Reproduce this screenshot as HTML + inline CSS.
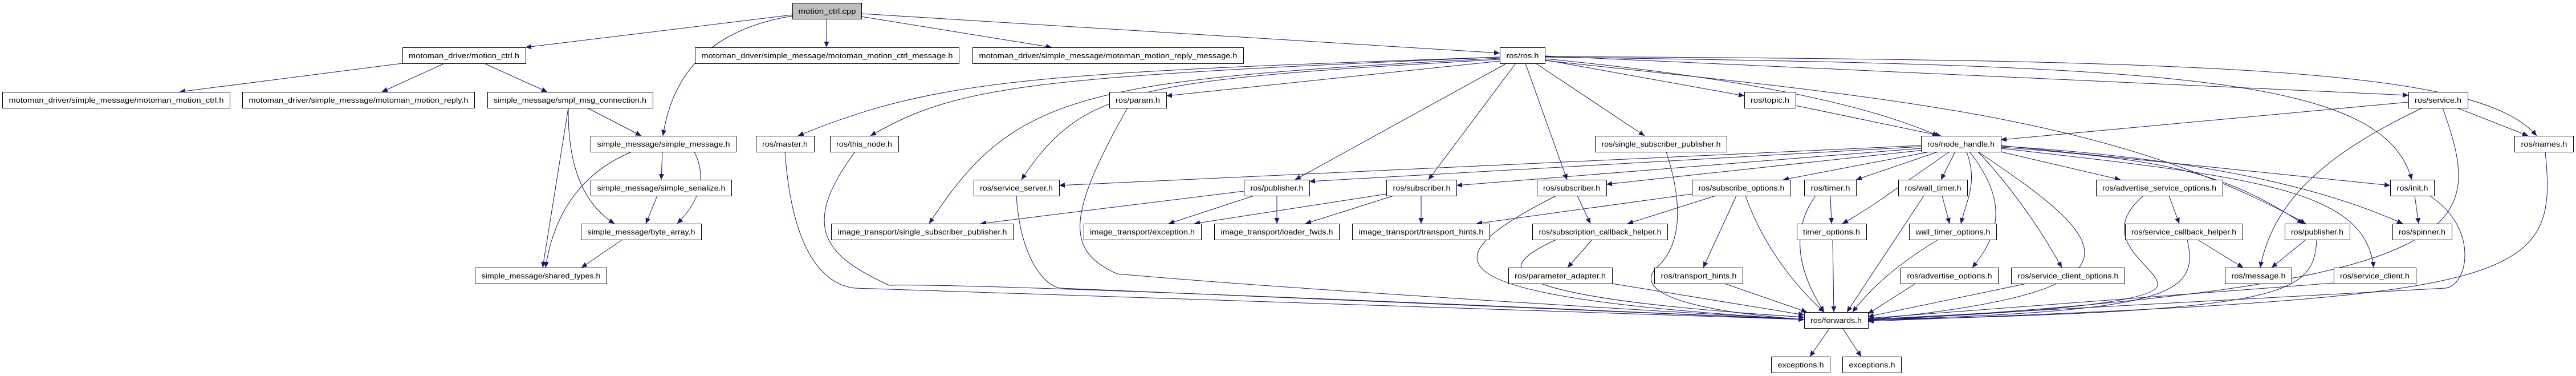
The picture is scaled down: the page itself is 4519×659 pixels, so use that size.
<!DOCTYPE html>
<html><head><meta charset="utf-8"><style>
html,body{margin:0;padding:0;background:#fff;}
svg{display:block;}
text{font-family:"Liberation Sans",sans-serif;font-size:13px;fill:#000;}
</style></head><body>
<svg width="4519" height="659" viewBox="0 0 4519 659" xmlns="http://www.w3.org/2000/svg">
<defs>
<marker id="a" markerUnits="userSpaceOnUse" markerWidth="11" markerHeight="9" refX="10" refY="4.5" orient="auto">
<path d="M0,0 L10,4.5 L0,9 Z" fill="#191970"/>
</marker>
</defs>
<g fill="none" stroke="#191970" stroke-width="1" marker-end="url(#a)">
<path d="M1390,26 L922,83"/>
<path d="M1390,28 Q1190,60 1163,238"/>
<path d="M1450,33 L1450,83"/>
<path d="M1511,29 L1845,83"/>
<path d="M1511,24 L2631,93"/>
<path d="M706,111 L315,161"/>
<path d="M780,111 L670,161"/>
<path d="M849,111 L960,161"/>
<path d="M1030,189 L1125,238"/>
<path d="M997,189 Q995,340 1078,392"/>
<path d="M997,189 L952,469"/>
<path d="M1162,266 L1160,315"/>
<path d="M1218,266 Q1250,330 1188,392"/>
<path d="M1108,266 Q980,320 957,469"/>
<path d="M1153,343 L1133,392"/>
<path d="M1092,420 L1020,469"/>
<path d="M2631,100 C1800,128 1640,140 1400,238"/>
<path d="M2631,100 C1800,135 1680,150 1527,238"/>
<path d="M2631,102 C1900,140 1780,160 1630,392"/>
<path d="M2631,104 C2000,140 1900,150 1792,315"/>
<path d="M2631,107 L2046,168"/>
<path d="M2643,111 L2272,315"/>
<path d="M2659,111 L2506,315"/>
<path d="M2676,111 L2749,315"/>
<path d="M2694,111 L2885,238"/>
<path d="M2710,105 L3060,168"/>
<path d="M2710,103 Q3200,150 3400,238"/>
<path d="M2710,98 L4225,167"/>
<path d="M2710,106 C3300,170 3700,200 4045,392"/>
<path d="M2710,100 C3800,115 4180,130 4231,315"/>
<path d="M2710,99 C3900,105 4350,120 4450,238"/>
<path d="M3150,185 L3405,238"/>
<path d="M4225,179 L3510,245"/>
<path d="M4250,189 C4100,260 3990,340 3965,469"/>
<path d="M4285,189 C4360,400 4360,500 3277,562"/>
<path d="M4310,189 L4435,238"/>
<path d="M4465,266 C4490,500 4420,520 3277,563"/>
<path d="M3370,255 L1858,325"/>
<path d="M3370,257 L2297,318"/>
<path d="M3370,260 L2555,325"/>
<path d="M3375,263 L2818,323"/>
<path d="M3385,266 L3128,315"/>
<path d="M3400,266 L3256,315"/>
<path d="M3430,266 L3405,315"/>
<path d="M3420,266 C3340,320 3290,360 3232,392"/>
<path d="M3450,266 C3470,320 3450,350 3440,392"/>
<path d="M3455,266 C3530,360 3500,420 3460,469"/>
<path d="M3470,266 C3540,340 3590,420 3617,469"/>
<path d="M3470,266 C3700,420 3800,510 3277,560"/>
<path d="M3510,266 L3720,315"/>
<path d="M3510,255 L4193,325"/>
<path d="M3510,258 C3800,280 3900,300 4040,392"/>
<path d="M3510,256 C3900,280 4100,340 4215,392"/>
<path d="M3510,260 C3950,310 4150,330 4164,469"/>
<path d="M2182,335 L1720,392"/>
<path d="M2200,343 L2050,392"/>
<path d="M2240,343 L2240,392"/>
<path d="M2432,340 L2095,392"/>
<path d="M2445,343 L2290,392"/>
<path d="M2493,343 L2493,392"/>
<path d="M2730,343 C2500,460 2500,520 3165,560"/>
<path d="M2767,343 L2790,392"/>
<path d="M2968,340 L2590,392"/>
<path d="M3010,343 L2855,392"/>
<path d="M3046,343 L2988,469"/>
<path d="M3062,343 C3100,450 3170,520 3200,547"/>
<path d="M3211,343 L3213,392"/>
<path d="M3185,343 C3130,420 3170,500 3200,547"/>
<path d="M3407,343 L3420,392"/>
<path d="M3375,343 L3240,547"/>
<path d="M3215,420 L3217,547"/>
<path d="M3400,420 Q3300,480 3250,547"/>
<path d="M2793,420 L2750,469"/>
<path d="M2730,420 C2620,470 2600,520 3165,556"/>
<path d="M2828,497 L3165,552"/>
<path d="M3025,497 L3170,547"/>
<path d="M3360,497 L3277,550"/>
<path d="M3555,497 L3277,555"/>
<path d="M2923,266 C2960,380 2940,440 2905,470 C2860,520 3000,548 3165,560"/>
<path d="M1377,266 C1390,450 1450,500 1500,505 L3165,560"/>
<path d="M1500,266 C1400,400 1450,450 1560,500 Q1700,495 3165,560"/>
<path d="M1978,189 C1870,380 1870,440 1960,480 Q2300,510 3165,560"/>
<path d="M1783,343 C1790,450 1830,500 1860,505 L3165,560"/>
<path d="M3805,343 L3823,392"/>
<path d="M3760,343 C3670,420 3790,470 3785,500 C3780,540 3400,555 3277,560"/>
<path d="M3855,420 L3935,469"/>
<path d="M3837,420 C3860,520 3800,545 3277,561"/>
<path d="M4045,420 L3985,469"/>
<path d="M4064,420 C4060,520 4000,545 3277,561"/>
<path d="M4094,496 L3277,558"/>
<path d="M4236,343 L4243,392"/>
<path d="M4262,343 C4350,400 4330,500 4290,505 L3277,560"/>
<path d="M3210,575 L3175,625"/>
<path d="M3232,575 L3265,625"/>
</g>
<g stroke="#000" stroke-width="1" fill="#fff">
<rect x="1390.5" y="5.5" width="121" height="28" fill="#bfbfbf"/>
<rect x="706.5" y="83.5" width="216" height="28"/>
<rect x="1219.5" y="83.5" width="463" height="28"/>
<rect x="1706.5" y="83.5" width="475" height="28"/>
<rect x="2631.5" y="83.5" width="79" height="28"/>
<rect x="4.5" y="161.5" width="399" height="28"/>
<rect x="425.5" y="161.5" width="407" height="28"/>
<rect x="855.5" y="161.5" width="290" height="28"/>
<rect x="1946.5" y="161.5" width="100" height="28"/>
<rect x="3060.5" y="161.5" width="90" height="28"/>
<rect x="4225.5" y="161.5" width="104" height="28"/>
<rect x="1036.5" y="238.5" width="255" height="28"/>
<rect x="1326.5" y="238.5" width="102" height="28"/>
<rect x="1456.5" y="238.5" width="120" height="28"/>
<rect x="2798.5" y="238.5" width="231" height="28"/>
<rect x="3370.5" y="238.5" width="140" height="28"/>
<rect x="4411.5" y="238.5" width="103" height="28"/>
<rect x="1036.5" y="315.5" width="247" height="28"/>
<rect x="1708.5" y="315.5" width="150" height="28"/>
<rect x="2182.5" y="315.5" width="115" height="28"/>
<rect x="2432.5" y="315.5" width="123" height="28"/>
<rect x="2696.5" y="315.5" width="122" height="28"/>
<rect x="2968.5" y="315.5" width="173" height="28"/>
<rect x="3165.5" y="315.5" width="91" height="28"/>
<rect x="3330.5" y="315.5" width="121" height="28"/>
<rect x="3677.5" y="315.5" width="222" height="28"/>
<rect x="4193.5" y="315.5" width="77" height="28"/>
<rect x="1019.5" y="392.5" width="211" height="28"/>
<rect x="1458.5" y="392.5" width="319" height="28"/>
<rect x="1901.5" y="392.5" width="206" height="28"/>
<rect x="2130.5" y="392.5" width="219" height="28"/>
<rect x="2372.5" y="392.5" width="241" height="28"/>
<rect x="2688.5" y="392.5" width="237" height="28"/>
<rect x="3152.5" y="392.5" width="122" height="28"/>
<rect x="3349.5" y="392.5" width="153" height="28"/>
<rect x="3728.5" y="392.5" width="206" height="28"/>
<rect x="4008.5" y="392.5" width="114" height="28"/>
<rect x="4197.5" y="392.5" width="104" height="28"/>
<rect x="833.5" y="469.5" width="231" height="28"/>
<rect x="2646.5" y="469.5" width="182" height="28"/>
<rect x="2902.5" y="469.5" width="155" height="28"/>
<rect x="3334.5" y="469.5" width="171" height="28"/>
<rect x="3528.5" y="469.5" width="199" height="28"/>
<rect x="3903.5" y="469.5" width="117" height="28"/>
<rect x="4094.5" y="469.5" width="144" height="28"/>
<rect x="3165.5" y="547.5" width="112" height="28"/>
<rect x="3107.5" y="625.5" width="103" height="28"/>
<rect x="3232.5" y="625.5" width="103" height="28"/>
</g>
<g text-anchor="middle" lengthAdjust="spacingAndGlyphs">
<text x="1451" y="24" textLength="101" lengthAdjust="spacingAndGlyphs">motion_ctrl.cpp</text>
<text x="814" y="102" textLength="194" lengthAdjust="spacingAndGlyphs">motoman_driver/motion_ctrl.h</text>
<text x="1451" y="102" textLength="441" lengthAdjust="spacingAndGlyphs">motoman_driver/simple_message/motoman_motion_ctrl_message.h</text>
<text x="1944" y="102" textLength="453" lengthAdjust="spacingAndGlyphs">motoman_driver/simple_message/motoman_motion_reply_message.h</text>
<text x="2671" y="102" textLength="57" lengthAdjust="spacingAndGlyphs">ros/ros.h</text>
<text x="204" y="180" textLength="377" lengthAdjust="spacingAndGlyphs">motoman_driver/simple_message/motoman_motion_ctrl.h</text>
<text x="629" y="180" textLength="385" lengthAdjust="spacingAndGlyphs">motoman_driver/simple_message/motoman_motion_reply.h</text>
<text x="1000" y="180" textLength="268" lengthAdjust="spacingAndGlyphs">simple_message/smpl_msg_connection.h</text>
<text x="1996" y="180" textLength="78" lengthAdjust="spacingAndGlyphs">ros/param.h</text>
<text x="3105" y="180" textLength="68" lengthAdjust="spacingAndGlyphs">ros/topic.h</text>
<text x="4277" y="180" textLength="82" lengthAdjust="spacingAndGlyphs">ros/service.h</text>
<text x="1164" y="257" textLength="233" lengthAdjust="spacingAndGlyphs">simple_message/simple_message.h</text>
<text x="1377" y="257" textLength="80" lengthAdjust="spacingAndGlyphs">ros/master.h</text>
<text x="1516" y="257" textLength="98" lengthAdjust="spacingAndGlyphs">ros/this_node.h</text>
<text x="2914" y="257" textLength="209" lengthAdjust="spacingAndGlyphs">ros/single_subscriber_publisher.h</text>
<text x="3440" y="257" textLength="118" lengthAdjust="spacingAndGlyphs">ros/node_handle.h</text>
<text x="4463" y="257" textLength="81" lengthAdjust="spacingAndGlyphs">ros/names.h</text>
<text x="1160" y="334" textLength="225" lengthAdjust="spacingAndGlyphs">simple_message/simple_serialize.h</text>
<text x="1783" y="334" textLength="128" lengthAdjust="spacingAndGlyphs">ros/service_server.h</text>
<text x="2240" y="334" textLength="93" lengthAdjust="spacingAndGlyphs">ros/publisher.h</text>
<text x="2494" y="334" textLength="101" lengthAdjust="spacingAndGlyphs">ros/subscriber.h</text>
<text x="2757" y="334" textLength="100" lengthAdjust="spacingAndGlyphs">ros/subscriber.h</text>
<text x="3055" y="334" textLength="151" lengthAdjust="spacingAndGlyphs">ros/subscribe_options.h</text>
<text x="3211" y="334" textLength="69" lengthAdjust="spacingAndGlyphs">ros/timer.h</text>
<text x="3391" y="334" textLength="99" lengthAdjust="spacingAndGlyphs">ros/wall_timer.h</text>
<text x="3788" y="334" textLength="200" lengthAdjust="spacingAndGlyphs">ros/advertise_service_options.h</text>
<text x="4232" y="334" textLength="55" lengthAdjust="spacingAndGlyphs">ros/init.h</text>
<text x="1125" y="411" textLength="189" lengthAdjust="spacingAndGlyphs">simple_message/byte_array.h</text>
<text x="1618" y="411" textLength="297" lengthAdjust="spacingAndGlyphs">image_transport/single_subscriber_publisher.h</text>
<text x="2004" y="411" textLength="184" lengthAdjust="spacingAndGlyphs">image_transport/exception.h</text>
<text x="2240" y="411" textLength="197" lengthAdjust="spacingAndGlyphs">image_transport/loader_fwds.h</text>
<text x="2493" y="411" textLength="219" lengthAdjust="spacingAndGlyphs">image_transport/transport_hints.h</text>
<text x="2807" y="411" textLength="215" lengthAdjust="spacingAndGlyphs">ros/subscription_callback_helper.h</text>
<text x="3213" y="411" textLength="100" lengthAdjust="spacingAndGlyphs">timer_options.h</text>
<text x="3426" y="411" textLength="131" lengthAdjust="spacingAndGlyphs">wall_timer_options.h</text>
<text x="3831" y="411" textLength="184" lengthAdjust="spacingAndGlyphs">ros/service_callback_helper.h</text>
<text x="4065" y="411" textLength="92" lengthAdjust="spacingAndGlyphs">ros/publisher.h</text>
<text x="4249" y="411" textLength="82" lengthAdjust="spacingAndGlyphs">ros/spinner.h</text>
<text x="949" y="488" textLength="209" lengthAdjust="spacingAndGlyphs">simple_message/shared_types.h</text>
<text x="2737" y="488" textLength="160" lengthAdjust="spacingAndGlyphs">ros/parameter_adapter.h</text>
<text x="2980" y="488" textLength="133" lengthAdjust="spacingAndGlyphs">ros/transport_hints.h</text>
<text x="3420" y="488" textLength="149" lengthAdjust="spacingAndGlyphs">ros/advertise_options.h</text>
<text x="3628" y="488" textLength="177" lengthAdjust="spacingAndGlyphs">ros/service_client_options.h</text>
<text x="3962" y="488" textLength="95" lengthAdjust="spacingAndGlyphs">ros/message.h</text>
<text x="4166" y="488" textLength="122" lengthAdjust="spacingAndGlyphs">ros/service_client.h</text>
<text x="3221" y="566" textLength="90" lengthAdjust="spacingAndGlyphs">ros/forwards.h</text>
<text x="3159" y="644" textLength="81" lengthAdjust="spacingAndGlyphs">exceptions.h</text>
<text x="3284" y="644" textLength="81" lengthAdjust="spacingAndGlyphs">exceptions.h</text>
</g>
</svg>
</body></html>
